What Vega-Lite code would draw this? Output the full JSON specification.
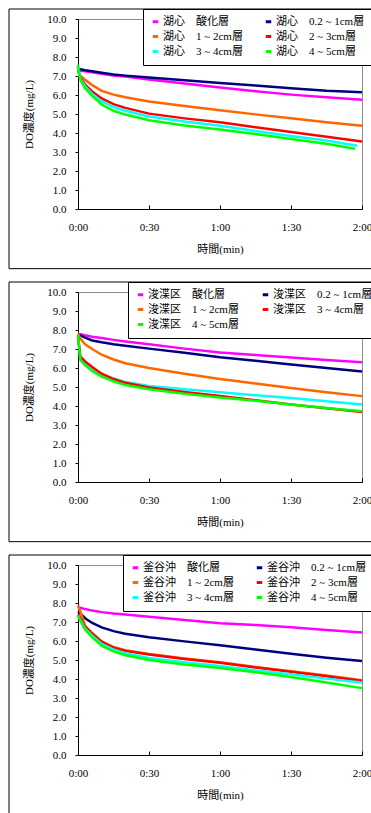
{
  "$schema": "https://vega.github.io/schema/vega-lite/v6.json",
  "padding": {"left": 8, "top": 8, "right": 0, "bottom": 0},
  "autosize": {"type": "pad"},
  "spacing": 11,
  "resolve": {"scale": {"color": "independent"}, "legend": {"color": "independent"}},
  "config": {
    "font": "Liberation Serif, Noto Sans CJK JP",
    "view": {"stroke": "#8c8c8c", "strokeWidth": 1},
    "axis": {"labelColor": "black", "titleColor": "black", "labelFontSize": 11, "titleFontSize": 11, "titleFontWeight": "normal", "labelFont": "Liberation Serif, Noto Sans CJK JP", "titleFont": "Liberation Serif, Noto Sans CJK JP", "labelOverlap": false},
    "axisX": {"grid": false, "domainColor": "black", "tickColor": "black", "tickSize": -4, "labelPadding": 16, "titlePadding": 11, "labelFlush": false},
    "axisY": {"gridColor": "black", "gridOpacity": 1, "gridWidth": 1, "domainColor": "black", "tickColor": "black", "tickSize": 3, "labelPadding": 9, "titlePadding": 12},
    "legend": {"columns": 2, "direction": "horizontal", "symbolType": "stroke", "symbolSize": 30, "symbolStrokeWidth": 3, "labelFontSize": 11, "labelColor": "black", "labelFont": "Liberation Serif, Noto Sans CJK JP", "labelOffset": 2, "rowPadding": 2, "columnPadding": 16, "padding": 7, "strokeColor": "black", "fillColor": "white", "cornerRadius": 0, "labelLimit": 200}
  },
  "datasets": {
    "frame": [{"k": 1}],
    "p1": [
      {"s":"湖心　酸化層","t":0,"v":7.3},{"s":"湖心　酸化層","t":1,"v":7.28},{"s":"湖心　酸化層","t":3,"v":7.25},{"s":"湖心　酸化層","t":6,"v":7.2},{"s":"湖心　酸化層","t":10,"v":7.12},{"s":"湖心　酸化層","t":15,"v":7.03},{"s":"湖心　酸化層","t":20,"v":6.97},{"s":"湖心　酸化層","t":30,"v":6.82},{"s":"湖心　酸化層","t":45,"v":6.6},{"s":"湖心　酸化層","t":60,"v":6.4},{"s":"湖心　酸化層","t":75,"v":6.2},{"s":"湖心　酸化層","t":90,"v":6.02},{"s":"湖心　酸化層","t":105,"v":5.88},{"s":"湖心　酸化層","t":120,"v":5.75},
      {"s":"湖心　0.2 ~ 1cm層","t":0,"v":7.38},{"s":"湖心　0.2 ~ 1cm層","t":1,"v":7.35},{"s":"湖心　0.2 ~ 1cm層","t":3,"v":7.3},{"s":"湖心　0.2 ~ 1cm層","t":6,"v":7.25},{"s":"湖心　0.2 ~ 1cm層","t":10,"v":7.17},{"s":"湖心　0.2 ~ 1cm層","t":15,"v":7.08},{"s":"湖心　0.2 ~ 1cm層","t":20,"v":7.02},{"s":"湖心　0.2 ~ 1cm層","t":30,"v":6.92},{"s":"湖心　0.2 ~ 1cm層","t":45,"v":6.77},{"s":"湖心　0.2 ~ 1cm層","t":60,"v":6.63},{"s":"湖心　0.2 ~ 1cm層","t":75,"v":6.5},{"s":"湖心　0.2 ~ 1cm層","t":90,"v":6.36},{"s":"湖心　0.2 ~ 1cm層","t":105,"v":6.22},{"s":"湖心　0.2 ~ 1cm層","t":120,"v":6.14},
      {"s":"湖心　1 ~ 2cm層","t":0,"v":7.02},{"s":"湖心　1 ~ 2cm層","t":1,"v":7.0},{"s":"湖心　1 ~ 2cm層","t":3,"v":6.8},{"s":"湖心　1 ~ 2cm層","t":6,"v":6.52},{"s":"湖心　1 ~ 2cm層","t":10,"v":6.22},{"s":"湖心　1 ~ 2cm層","t":15,"v":6.02},{"s":"湖心　1 ~ 2cm層","t":20,"v":5.88},{"s":"湖心　1 ~ 2cm層","t":30,"v":5.66},{"s":"湖心　1 ~ 2cm層","t":45,"v":5.42},{"s":"湖心　1 ~ 2cm層","t":60,"v":5.2},{"s":"湖心　1 ~ 2cm層","t":75,"v":4.98},{"s":"湖心　1 ~ 2cm層","t":90,"v":4.78},{"s":"湖心　1 ~ 2cm層","t":105,"v":4.57},{"s":"湖心　1 ~ 2cm層","t":120,"v":4.38},
      {"s":"湖心　2 ~ 3cm層","t":0,"v":7.3},{"s":"湖心　2 ~ 3cm層","t":1,"v":6.9},{"s":"湖心　2 ~ 3cm層","t":3,"v":6.55},{"s":"湖心　2 ~ 3cm層","t":6,"v":6.18},{"s":"湖心　2 ~ 3cm層","t":10,"v":5.82},{"s":"湖心　2 ~ 3cm層","t":15,"v":5.52},{"s":"湖心　2 ~ 3cm層","t":20,"v":5.32},{"s":"湖心　2 ~ 3cm層","t":30,"v":5.02},{"s":"湖心　2 ~ 3cm層","t":45,"v":4.77},{"s":"湖心　2 ~ 3cm層","t":60,"v":4.56},{"s":"湖心　2 ~ 3cm層","t":75,"v":4.3},{"s":"湖心　2 ~ 3cm層","t":90,"v":4.05},{"s":"湖心　2 ~ 3cm層","t":105,"v":3.8},{"s":"湖心　2 ~ 3cm層","t":120,"v":3.55},
      {"s":"湖心　3 ~ 4cm層","t":0,"v":7.45},{"s":"湖心　3 ~ 4cm層","t":1,"v":6.85},{"s":"湖心　3 ~ 4cm層","t":3,"v":6.45},{"s":"湖心　3 ~ 4cm層","t":6,"v":6.05},{"s":"湖心　3 ~ 4cm層","t":10,"v":5.67},{"s":"湖心　3 ~ 4cm層","t":15,"v":5.37},{"s":"湖心　3 ~ 4cm層","t":20,"v":5.17},{"s":"湖心　3 ~ 4cm層","t":30,"v":4.87},{"s":"湖心　3 ~ 4cm層","t":45,"v":4.6},{"s":"湖心　3 ~ 4cm層","t":60,"v":4.38},{"s":"湖心　3 ~ 4cm層","t":75,"v":4.1},{"s":"湖心　3 ~ 4cm層","t":90,"v":3.84},{"s":"湖心　3 ~ 4cm層","t":105,"v":3.6},{"s":"湖心　3 ~ 4cm層","t":118,"v":3.33},
      {"s":"湖心　4 ~ 5cm層","t":0,"v":7.6},{"s":"湖心　4 ~ 5cm層","t":1,"v":6.8},{"s":"湖心　4 ~ 5cm層","t":3,"v":6.35},{"s":"湖心　4 ~ 5cm層","t":6,"v":5.95},{"s":"湖心　4 ~ 5cm層","t":10,"v":5.5},{"s":"湖心　4 ~ 5cm層","t":15,"v":5.17},{"s":"湖心　4 ~ 5cm層","t":20,"v":4.97},{"s":"湖心　4 ~ 5cm層","t":30,"v":4.67},{"s":"湖心　4 ~ 5cm層","t":45,"v":4.4},{"s":"湖心　4 ~ 5cm層","t":60,"v":4.19},{"s":"湖心　4 ~ 5cm層","t":75,"v":3.95},{"s":"湖心　4 ~ 5cm層","t":90,"v":3.68},{"s":"湖心　4 ~ 5cm層","t":105,"v":3.43},{"s":"湖心　4 ~ 5cm層","t":117,"v":3.17}
    ],
    "p2": [
      {"s":"浚渫区　酸化層","t":0,"v":7.8},{"s":"浚渫区　酸化層","t":1,"v":7.78},{"s":"浚渫区　酸化層","t":3,"v":7.72},{"s":"浚渫区　酸化層","t":6,"v":7.65},{"s":"浚渫区　酸化層","t":10,"v":7.58},{"s":"浚渫区　酸化層","t":15,"v":7.48},{"s":"浚渫区　酸化層","t":20,"v":7.4},{"s":"浚渫区　酸化層","t":30,"v":7.25},{"s":"浚渫区　酸化層","t":45,"v":7.02},{"s":"浚渫区　酸化層","t":60,"v":6.82},{"s":"浚渫区　酸化層","t":75,"v":6.68},{"s":"浚渫区　酸化層","t":90,"v":6.55},{"s":"浚渫区　酸化層","t":105,"v":6.42},{"s":"浚渫区　酸化層","t":120,"v":6.3},
      {"s":"浚渫区　0.2 ~ 1cm層","t":0,"v":7.75},{"s":"浚渫区　0.2 ~ 1cm層","t":1,"v":7.72},{"s":"浚渫区　0.2 ~ 1cm層","t":3,"v":7.6},{"s":"浚渫区　0.2 ~ 1cm層","t":6,"v":7.45},{"s":"浚渫区　0.2 ~ 1cm層","t":10,"v":7.35},{"s":"浚渫区　0.2 ~ 1cm層","t":15,"v":7.25},{"s":"浚渫区　0.2 ~ 1cm層","t":20,"v":7.17},{"s":"浚渫区　0.2 ~ 1cm層","t":30,"v":7.02},{"s":"浚渫区　0.2 ~ 1cm層","t":45,"v":6.8},{"s":"浚渫区　0.2 ~ 1cm層","t":60,"v":6.56},{"s":"浚渫区　0.2 ~ 1cm層","t":75,"v":6.38},{"s":"浚渫区　0.2 ~ 1cm層","t":90,"v":6.18},{"s":"浚渫区　0.2 ~ 1cm層","t":105,"v":6.0},{"s":"浚渫区　0.2 ~ 1cm層","t":120,"v":5.82},
      {"s":"浚渫区　1 ~ 2cm層","t":0,"v":7.8},{"s":"浚渫区　1 ~ 2cm層","t":1,"v":7.55},{"s":"浚渫区　1 ~ 2cm層","t":3,"v":7.25},{"s":"浚渫区　1 ~ 2cm層","t":6,"v":7.0},{"s":"浚渫区　1 ~ 2cm層","t":10,"v":6.7},{"s":"浚渫区　1 ~ 2cm層","t":15,"v":6.45},{"s":"浚渫区　1 ~ 2cm層","t":20,"v":6.25},{"s":"浚渫区　1 ~ 2cm層","t":30,"v":6.0},{"s":"浚渫区　1 ~ 2cm層","t":45,"v":5.7},{"s":"浚渫区　1 ~ 2cm層","t":60,"v":5.42},{"s":"浚渫区　1 ~ 2cm層","t":75,"v":5.18},{"s":"浚渫区　1 ~ 2cm層","t":90,"v":4.95},{"s":"浚渫区　1 ~ 2cm層","t":105,"v":4.72},{"s":"浚渫区　1 ~ 2cm層","t":120,"v":4.52},
      {"s":"浚渫区　2 ~ 3cm層","t":0,"v":7.6},{"s":"浚渫区　2 ~ 3cm層","t":1,"v":6.5},{"s":"浚渫区　2 ~ 3cm層","t":3,"v":6.3},{"s":"浚渫区　2 ~ 3cm層","t":6,"v":6.0},{"s":"浚渫区　2 ~ 3cm層","t":10,"v":5.68},{"s":"浚渫区　2 ~ 3cm層","t":15,"v":5.45},{"s":"浚渫区　2 ~ 3cm層","t":20,"v":5.27},{"s":"浚渫区　2 ~ 3cm層","t":30,"v":5.05},{"s":"浚渫区　2 ~ 3cm層","t":45,"v":4.88},{"s":"浚渫区　2 ~ 3cm層","t":60,"v":4.72},{"s":"浚渫区　2 ~ 3cm層","t":75,"v":4.56},{"s":"浚渫区　2 ~ 3cm層","t":90,"v":4.42},{"s":"浚渫区　2 ~ 3cm層","t":105,"v":4.25},{"s":"浚渫区　2 ~ 3cm層","t":120,"v":4.08},
      {"s":"浚渫区　3 ~ 4cm層","t":0,"v":7.65},{"s":"浚渫区　3 ~ 4cm層","t":1,"v":6.6},{"s":"浚渫区　3 ~ 4cm層","t":3,"v":6.35},{"s":"浚渫区　3 ~ 4cm層","t":6,"v":6.05},{"s":"浚渫区　3 ~ 4cm層","t":10,"v":5.7},{"s":"浚渫区　3 ~ 4cm層","t":15,"v":5.42},{"s":"浚渫区　3 ~ 4cm層","t":20,"v":5.22},{"s":"浚渫区　3 ~ 4cm層","t":30,"v":4.98},{"s":"浚渫区　3 ~ 4cm層","t":45,"v":4.74},{"s":"浚渫区　3 ~ 4cm層","t":60,"v":4.53},{"s":"浚渫区　3 ~ 4cm層","t":75,"v":4.3},{"s":"浚渫区　3 ~ 4cm層","t":90,"v":4.08},{"s":"浚渫区　3 ~ 4cm層","t":105,"v":3.88},{"s":"浚渫区　3 ~ 4cm層","t":120,"v":3.68},
      {"s":"浚渫区　4 ~ 5cm層","t":0,"v":7.75},{"s":"浚渫区　4 ~ 5cm層","t":1,"v":6.42},{"s":"浚渫区　4 ~ 5cm層","t":3,"v":6.15},{"s":"浚渫区　4 ~ 5cm層","t":6,"v":5.85},{"s":"浚渫区　4 ~ 5cm層","t":10,"v":5.55},{"s":"浚渫区　4 ~ 5cm層","t":15,"v":5.3},{"s":"浚渫区　4 ~ 5cm層","t":20,"v":5.1},{"s":"浚渫区　4 ~ 5cm層","t":30,"v":4.88},{"s":"浚渫区　4 ~ 5cm層","t":45,"v":4.64},{"s":"浚渫区　4 ~ 5cm層","t":60,"v":4.45},{"s":"浚渫区　4 ~ 5cm層","t":75,"v":4.28},{"s":"浚渫区　4 ~ 5cm層","t":90,"v":4.08},{"s":"浚渫区　4 ~ 5cm層","t":105,"v":3.9},{"s":"浚渫区　4 ~ 5cm層","t":120,"v":3.72}
    ],
    "p3": [
      {"s":"釜谷沖　酸化層","t":0,"v":7.8},{"s":"釜谷沖　酸化層","t":1,"v":7.75},{"s":"釜谷沖　酸化層","t":3,"v":7.68},{"s":"釜谷沖　酸化層","t":6,"v":7.6},{"s":"釜谷沖　酸化層","t":10,"v":7.52},{"s":"釜谷沖　酸化層","t":15,"v":7.45},{"s":"釜谷沖　酸化層","t":20,"v":7.4},{"s":"釜谷沖　酸化層","t":30,"v":7.28},{"s":"釜谷沖　酸化層","t":45,"v":7.1},{"s":"釜谷沖　酸化層","t":60,"v":6.94},{"s":"釜谷沖　酸化層","t":75,"v":6.84},{"s":"釜谷沖　酸化層","t":90,"v":6.72},{"s":"釜谷沖　酸化層","t":105,"v":6.58},{"s":"釜谷沖　酸化層","t":120,"v":6.45},
      {"s":"釜谷沖　0.2 ~ 1cm層","t":0,"v":7.55},{"s":"釜谷沖　0.2 ~ 1cm層","t":1,"v":7.45},{"s":"釜谷沖　0.2 ~ 1cm層","t":3,"v":7.2},{"s":"釜谷沖　0.2 ~ 1cm層","t":6,"v":6.95},{"s":"釜谷沖　0.2 ~ 1cm層","t":10,"v":6.72},{"s":"釜谷沖　0.2 ~ 1cm層","t":15,"v":6.52},{"s":"釜谷沖　0.2 ~ 1cm層","t":20,"v":6.38},{"s":"釜谷沖　0.2 ~ 1cm層","t":30,"v":6.2},{"s":"釜谷沖　0.2 ~ 1cm層","t":45,"v":5.98},{"s":"釜谷沖　0.2 ~ 1cm層","t":60,"v":5.78},{"s":"釜谷沖　0.2 ~ 1cm層","t":75,"v":5.55},{"s":"釜谷沖　0.2 ~ 1cm層","t":90,"v":5.33},{"s":"釜谷沖　0.2 ~ 1cm層","t":105,"v":5.12},{"s":"釜谷沖　0.2 ~ 1cm層","t":120,"v":4.95},
      {"s":"釜谷沖　1 ~ 2cm層","t":0,"v":7.85},{"s":"釜谷沖　1 ~ 2cm層","t":1,"v":7.55},{"s":"釜谷沖　1 ~ 2cm層","t":3,"v":6.8},{"s":"釜谷沖　1 ~ 2cm層","t":6,"v":6.42},{"s":"釜谷沖　1 ~ 2cm層","t":10,"v":5.98},{"s":"釜谷沖　1 ~ 2cm層","t":15,"v":5.68},{"s":"釜谷沖　1 ~ 2cm層","t":20,"v":5.52},{"s":"釜谷沖　1 ~ 2cm層","t":30,"v":5.32},{"s":"釜谷沖　1 ~ 2cm層","t":45,"v":5.08},{"s":"釜谷沖　1 ~ 2cm層","t":60,"v":4.88},{"s":"釜谷沖　1 ~ 2cm層","t":75,"v":4.63},{"s":"釜谷沖　1 ~ 2cm層","t":90,"v":4.41},{"s":"釜谷沖　1 ~ 2cm層","t":105,"v":4.18},{"s":"釜谷沖　1 ~ 2cm層","t":120,"v":3.94},
      {"s":"釜谷沖　2 ~ 3cm層","t":0,"v":7.4},{"s":"釜谷沖　2 ~ 3cm層","t":1,"v":7.2},{"s":"釜谷沖　2 ~ 3cm層","t":3,"v":6.75},{"s":"釜谷沖　2 ~ 3cm層","t":6,"v":6.38},{"s":"釜谷沖　2 ~ 3cm層","t":10,"v":5.95},{"s":"釜谷沖　2 ~ 3cm層","t":15,"v":5.65},{"s":"釜谷沖　2 ~ 3cm層","t":20,"v":5.48},{"s":"釜谷沖　2 ~ 3cm層","t":30,"v":5.29},{"s":"釜谷沖　2 ~ 3cm層","t":45,"v":5.05},{"s":"釜谷沖　2 ~ 3cm層","t":60,"v":4.85},{"s":"釜谷沖　2 ~ 3cm層","t":75,"v":4.6},{"s":"釜谷沖　2 ~ 3cm層","t":90,"v":4.38},{"s":"釜谷沖　2 ~ 3cm層","t":105,"v":4.15},{"s":"釜谷沖　2 ~ 3cm層","t":120,"v":3.9},
      {"s":"釜谷沖　3 ~ 4cm層","t":0,"v":7.3},{"s":"釜谷沖　3 ~ 4cm層","t":1,"v":7.1},{"s":"釜谷沖　3 ~ 4cm層","t":3,"v":6.65},{"s":"釜谷沖　3 ~ 4cm層","t":6,"v":6.28},{"s":"釜谷沖　3 ~ 4cm層","t":10,"v":5.85},{"s":"釜谷沖　3 ~ 4cm層","t":15,"v":5.55},{"s":"釜谷沖　3 ~ 4cm層","t":20,"v":5.35},{"s":"釜谷沖　3 ~ 4cm層","t":30,"v":5.1},{"s":"釜谷沖　3 ~ 4cm層","t":45,"v":4.88},{"s":"釜谷沖　3 ~ 4cm層","t":60,"v":4.68},{"s":"釜谷沖　3 ~ 4cm層","t":75,"v":4.45},{"s":"釜谷沖　3 ~ 4cm層","t":90,"v":4.25},{"s":"釜谷沖　3 ~ 4cm層","t":105,"v":4.02},{"s":"釜谷沖　3 ~ 4cm層","t":120,"v":3.82},
      {"s":"釜谷沖　4 ~ 5cm層","t":0,"v":7.35},{"s":"釜谷沖　4 ~ 5cm層","t":1,"v":7.08},{"s":"釜谷沖　4 ~ 5cm層","t":3,"v":6.6},{"s":"釜谷沖　4 ~ 5cm層","t":6,"v":6.2},{"s":"釜谷沖　4 ~ 5cm層","t":10,"v":5.75},{"s":"釜谷沖　4 ~ 5cm層","t":15,"v":5.45},{"s":"釜谷沖　4 ~ 5cm層","t":20,"v":5.25},{"s":"釜谷沖　4 ~ 5cm層","t":30,"v":5.0},{"s":"釜谷沖　4 ~ 5cm層","t":45,"v":4.76},{"s":"釜谷沖　4 ~ 5cm層","t":60,"v":4.58},{"s":"釜谷沖　4 ~ 5cm層","t":75,"v":4.35},{"s":"釜谷沖　4 ~ 5cm層","t":90,"v":4.1},{"s":"釜谷沖　4 ~ 5cm層","t":105,"v":3.82},{"s":"釜谷沖　4 ~ 5cm層","t":120,"v":3.52}
    ]
  },
  "vconcat": [
    {
      "width": 284, "height": 190,
      "layer": [
        {"data": {"name": "frame"}, "mark": {"type": "rect", "filled": false, "stroke": "black", "strokeWidth": 1},
         "encoding": {"x": {"datum": -29.15, "type": "quantitative", "axis": {"values": [0, 30, 60, 90, 120], "labelExpr": "['0:00','0:30','1:00','1:30','2:00'][round(datum.value/30)]", "title": "時間(min)"}}, "x2": {"datum": 126}, "y": {"datum": 10.526, "type": "quantitative", "axis": {"values": [0,1,2,3,4,5,6,7,8,9,10], "format": ".1f", "title": "DO濃度(mg/L)"}}, "y2": {"datum": -3.14}}},
        {"data": {"name": "p1"}, "mark": {"type": "line", "strokeWidth": 2.5},
         "encoding": {
           "x": {"field": "t", "type": "quantitative", "scale": {"domain": [0, 120], "nice": false, "zero": false}, "axis": {"values": [0, 30, 60, 90, 120], "labelExpr": "['0:00','0:30','1:00','1:30','2:00'][round(datum.value/30)]", "title": "時間(min)"}},
           "y": {"field": "v", "type": "quantitative", "scale": {"domain": [0, 10], "nice": false}, "axis": {"values": [0,1,2,3,4,5,6,7,8,9,10], "format": ".1f", "title": "DO濃度(mg/L)"}},
           "color": {"field": "s", "type": "nominal", "scale": {"domain": ["湖心　酸化層","湖心　0.2 ~ 1cm層","湖心　1 ~ 2cm層","湖心　2 ~ 3cm層","湖心　3 ~ 4cm層","湖心　4 ~ 5cm層"], "range": ["#ff00ff","#000080","#ff6600","#ff0000","#00ffff","#00ff00"]}, "legend": {"title": null, "orient": "none", "legendX": 65, "legendY": -10}}
         }}
      ]
    },
    {
      "width": 284, "height": 190,
      "layer": [
        {"data": {"name": "frame"}, "mark": {"type": "rect", "filled": false, "stroke": "black", "strokeWidth": 1},
         "encoding": {"x": {"datum": -29.15, "type": "quantitative", "axis": {"values": [0, 30, 60, 90, 120], "labelExpr": "['0:00','0:30','1:00','1:30','2:00'][round(datum.value/30)]", "title": "時間(min)"}}, "x2": {"datum": 126}, "y": {"datum": 10.526, "type": "quantitative", "axis": {"values": [0,1,2,3,4,5,6,7,8,9,10], "format": ".1f", "title": "DO濃度(mg/L)"}}, "y2": {"datum": -3.14}}},
        {"data": {"name": "p2"}, "mark": {"type": "line", "strokeWidth": 2.5},
         "encoding": {
           "x": {"field": "t", "type": "quantitative", "scale": {"domain": [0, 120], "nice": false, "zero": false}, "axis": {"values": [0, 30, 60, 90, 120], "labelExpr": "['0:00','0:30','1:00','1:30','2:00'][round(datum.value/30)]", "title": "時間(min)"}},
           "y": {"field": "v", "type": "quantitative", "scale": {"domain": [0, 10], "nice": false}, "axis": {"values": [0,1,2,3,4,5,6,7,8,9,10], "format": ".1f", "title": "DO濃度(mg/L)"}},
           "color": {"field": "s", "type": "nominal", "scale": {"domain": ["浚渫区　酸化層","浚渫区　0.2 ~ 1cm層","浚渫区　1 ~ 2cm層","浚渫区　3 ~ 4cm層","浚渫区　4 ~ 5cm層","浚渫区　2 ~ 3cm層"], "range": ["#ff00ff","#000080","#ff6600","#ff0000","#00ff00","#00ffff"]}, "legend": {"title": null, "orient": "none", "legendX": 50, "legendY": -10, "columnPadding": 17, "values": ["浚渫区　酸化層","浚渫区　0.2 ~ 1cm層","浚渫区　1 ~ 2cm層","浚渫区　3 ~ 4cm層","浚渫区　4 ~ 5cm層"]}}
         }}
      ]
    },
    {
      "width": 284, "height": 190,
      "layer": [
        {"data": {"name": "frame"}, "mark": {"type": "rect", "filled": false, "stroke": "black", "strokeWidth": 1},
         "encoding": {"x": {"datum": -29.15, "type": "quantitative", "axis": {"values": [0, 30, 60, 90, 120], "labelExpr": "['0:00','0:30','1:00','1:30','2:00'][round(datum.value/30)]", "title": "時間(min)"}}, "x2": {"datum": 126}, "y": {"datum": 10.526, "type": "quantitative", "axis": {"values": [0,1,2,3,4,5,6,7,8,9,10], "format": ".1f", "title": "DO濃度(mg/L)"}}, "y2": {"datum": -3.14}}},
        {"data": {"name": "p3"}, "mark": {"type": "line", "strokeWidth": 2.5},
         "encoding": {
           "x": {"field": "t", "type": "quantitative", "scale": {"domain": [0, 120], "nice": false, "zero": false}, "axis": {"values": [0, 30, 60, 90, 120], "labelExpr": "['0:00','0:30','1:00','1:30','2:00'][round(datum.value/30)]", "title": "時間(min)"}},
           "y": {"field": "v", "type": "quantitative", "scale": {"domain": [0, 10], "nice": false}, "axis": {"values": [0,1,2,3,4,5,6,7,8,9,10], "format": ".1f", "title": "DO濃度(mg/L)"}},
           "color": {"field": "s", "type": "nominal", "scale": {"domain": ["釜谷沖　酸化層","釜谷沖　0.2 ~ 1cm層","釜谷沖　1 ~ 2cm層","釜谷沖　2 ~ 3cm層","釜谷沖　3 ~ 4cm層","釜谷沖　4 ~ 5cm層"], "range": ["#ff00ff","#000080","#ff6600","#ff0000","#00ffff","#00ff00"]}, "legend": {"title": null, "orient": "none", "legendX": 45, "legendY": -10}}
         }}
      ]
    }
  ]
}
